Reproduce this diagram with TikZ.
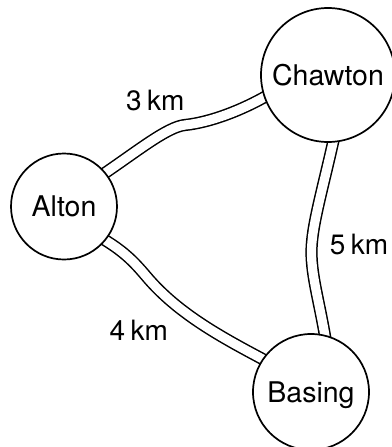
\documentclass[tikz,border=0pt]{standalone}
\usepackage{fontspec}
\setmainfont{TeX Gyre Heros}
\usetikzlibrary{backgrounds}
\begin{document}
\begin{tikzpicture}[x=1pt,y=-1pt,
  place/.style={circle,draw=black,line width=1.7pt,fill=white,inner sep=0pt,
    font=\fontsize{28.5}{30}\selectfont,text depth=0pt},
  road/.style={line width=1.5pt,double=white,double distance=9.2pt},
  dist/.style={anchor=base,inner sep=0pt,font=\fontsize{28}{30}\selectfont}]
\useasboundingbox (0,0) rectangle (391,447);
\node[place,minimum size=134pt] (chawton) at (328,75) {Chawton};
\node[place,minimum size=106pt] (alton) at (64,206.5) {Alton};
\node[place,minimum size=116pt] (basing) at (311,392) {Basing};
\begin{scope}[on background layer]
\draw[road] (alton.center) -- (100,176.4)
  .. controls (138.2,150.6) and (167.1,126.9) .. (185,125)
  .. controls (209.9,122.4) and (241.4,110.5) .. (268.2,95) -- (chawton.center);
\draw[road] (chawton.center) -- (333.8,139.2)
  .. controls (321.5,194) and (311.5,227) .. (311.5,252)
  .. controls (311.5,277) and (319.4,301.5) .. (326,341.9) -- (basing.center);
\draw[road] (alton.center) -- (99.8,237)
  .. controls (122.3,250) and (133.1,260.7) .. (146,276)
  .. controls (178.2,314.3) and (222.8,337.9) .. (267.8,361.8) -- (basing.center);
\end{scope}
\node[dist] (d3) at (155.3,110) {3\kern0.2em km};
\node[dist] (d5) at (359,254) {5\kern0.2em km};
\node[dist] (d4) at (138.8,340) {4\kern0.2em km};
\end{tikzpicture}
\end{document}
